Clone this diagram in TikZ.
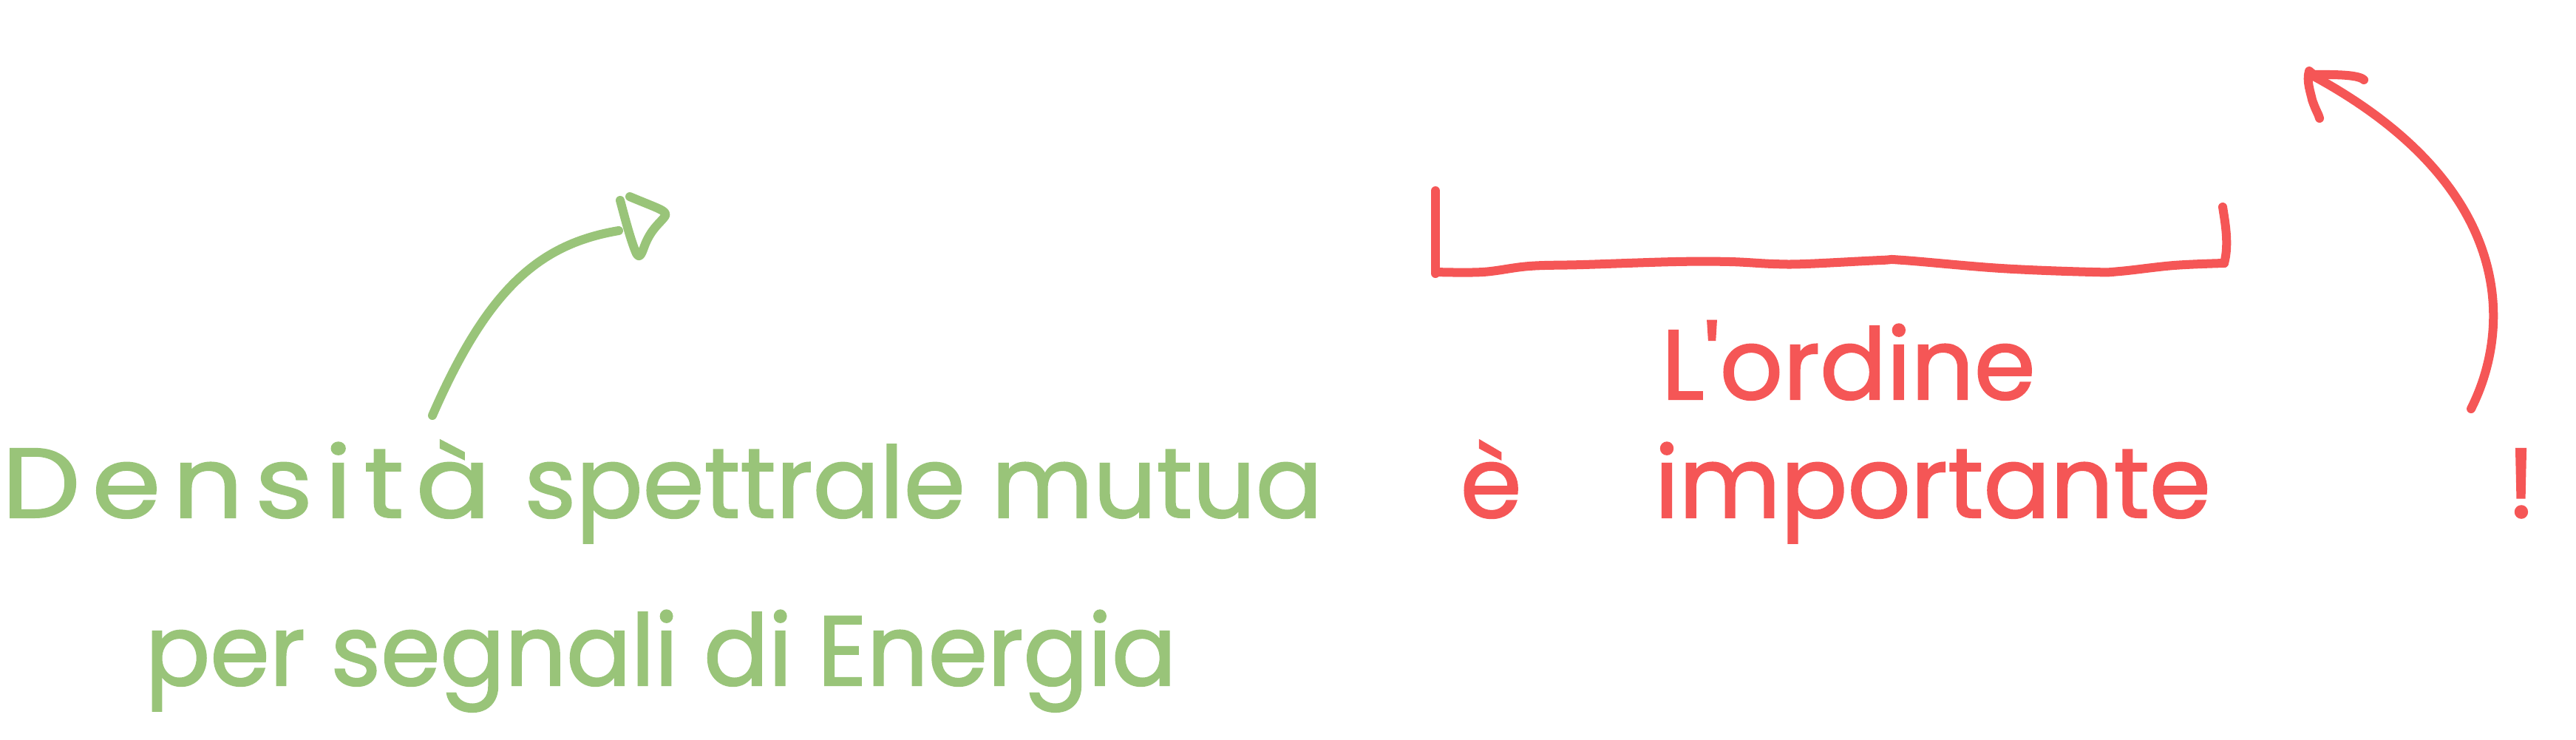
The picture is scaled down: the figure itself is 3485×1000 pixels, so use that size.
\documentclass[tikz,border=0pt]{standalone}
\usepackage{fontspec}
\newfontfamily\handW[FakeStretch=1.12,LetterSpace=12,FakeBold=1.5]{Poppins}
\newfontfamily\handA[FakeStretch=1.0,FakeBold=1.5]{Poppins}
\newfontfamily\handB[FakeStretch=0.97,FakeBold=1.5]{Poppins}
\definecolor{hgreen}{HTML}{99C479}
\definecolor{hred}{HTML}{F55656}
\begin{document}
\begin{tikzpicture}[x=0.01cm,y=-0.01cm,
  stroke/.style={line width=0.12cm,line cap=round,line join=round},
  gstroke/.style={stroke,draw=hgreen},
  rstroke/.style={stroke,draw=hred},
  hw/.style={inner sep=0pt,anchor=base west}]
\useasboundingbox[fill=white] (0,0) rectangle (3485,1000);

% green text
\node[hw,text=hgreen,font=\handA\fontsize{38pt}{44pt}\selectfont] (dens1) at (2,700) {{\handW Densità}\hspace{0.1cm} spettrale mutua};
\node[hw,text=hgreen,font=\handB\fontsize{38pt}{44pt}\selectfont] (dens2) at (196,927) {per segnali di Energia};

% red text
\node[hw,text=hred,font=\handA\fontsize{38pt}{44pt}\selectfont] (ord1) at (2247,540) {L'ordine};
\node[hw,text=hred,font=\handA\fontsize{38pt}{44pt}\selectfont] (ord2) at (1975,700) {è\hspace{1.8cm}importante\hspace{4.0cm}!};

% green arrow
\coordinate (ga0) at (585,562);
\coordinate (ga1) at (837,312);
\draw[gstroke] (ga0) .. controls (660,390) and (730,330) .. (ga1);
\draw[gstroke] (839,271) .. controls (848,305) and (855,330) .. (861,343)
  .. controls (866,352) and (869,340) .. (873,330)
  .. controls (882,308) and (895,300) .. (900,292)
  .. controls (903,285) and (890,282) .. (852,266);

% red bracket
\draw[rstroke] (1942,258) -- (1942,370);
\draw[rstroke] plot[smooth,tension=0.6] coordinates {(1942,368) (2006,368) (2069,360) (2142,358) (2267,354) (2340,354) (2399,357) (2443,357) (2545,352) (2575,352) (2707,363) (2831,368) (2868,367) (2941,359) (3009,356)};
\draw[rstroke] (3009,356) .. controls (3016,330) and (3010,300) .. (3007,280);

% red arrow
\coordinate (ra0) at (3343,553);
\coordinate (ra1) at (3130,103);
\draw[rstroke] (ra0) .. controls (3400,440) and (3400,250) .. (ra1);
\draw[rstroke] (3198,108) .. controls (3190,100) and (3150,101) .. (3130,101)
  -- (3124,96) .. controls (3120,110) and (3126,125) .. (3128,135)
  .. controls (3133,150) and (3137,155) .. (3138,160);
\end{tikzpicture}
\end{document}
